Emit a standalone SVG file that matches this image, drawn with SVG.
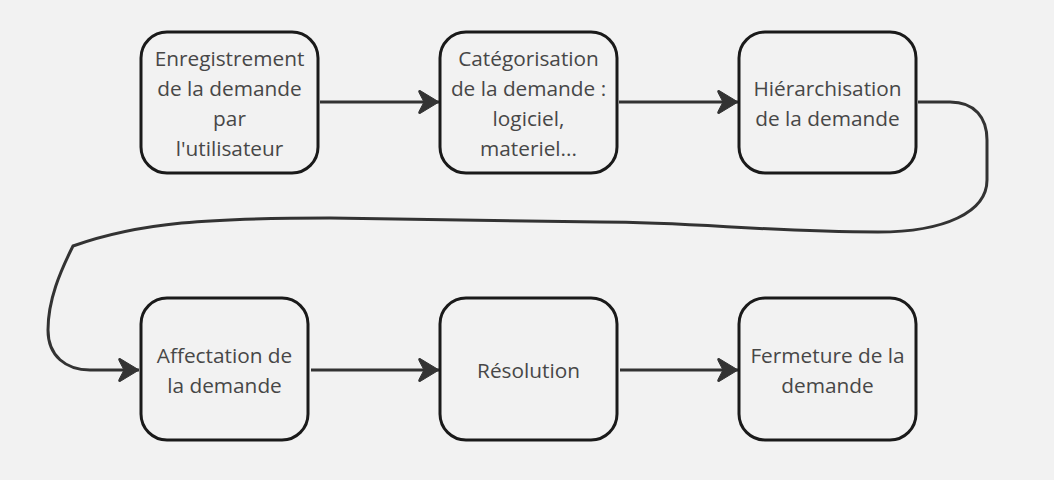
<svg xmlns="http://www.w3.org/2000/svg" width="1054" height="480" viewBox="0 0 1054 480">
<style>
.bg{fill:#f2f2f2}
.box{fill:#f2f2f2;stroke:#1a1a1a;stroke-width:3}
.lbl{font-family:"Open Sans","Noto Sans",sans-serif;font-size:20.8px;fill:#474747;text-anchor:middle}
.edge{fill:none;stroke:#333333;stroke-width:3;marker-end:url(#arr)}
</style>
<defs>
<marker id="arr" markerUnits="userSpaceOnUse" viewBox="-21 -13 22 26" markerWidth="22" markerHeight="26" refX="0" refY="0" orient="auto">
<path d="M0,0 L-19,-11.5 Q-21,-12 -20,-9.5 L-15,0 L-20,9.5 Q-21,12 -19,11.5 Z" fill="#333333" stroke="#333333" stroke-width="1" stroke-linejoin="round"/>
</marker>
</defs>
<rect class="bg" x="0" y="0" width="1054" height="480"/>
<g id="connectors">
<path class="edge" d="M320,102 L439,102"/>
<path class="edge" d="M619,102 L738,102"/>
<path class="edge" d="M918,102 L950,102 C975,102 987,118 987,140 L987,180 C987,212 945,232 878,232 C760,232 700,222 600,222 L330,218 C210,218 140,222 73,246 C60,272 48,300 48,330 C48,356 66,370 90,370 L139,370"/>
<path class="edge" d="M311,370 L439,370"/>
<path class="edge" d="M620,370 L738,370"/>
</g>
<g id="n1">
<rect class="box" x="141" y="32" width="177" height="141" rx="26"/>
<text class="lbl" x="229.5" y="65.5">Enregistrement</text>
<text class="lbl" x="229.5" y="96">de la demande</text>
<text class="lbl" x="229.5" y="126">par</text>
<text class="lbl" x="229.5" y="156">l'utilisateur</text>
</g>
<g id="n2">
<rect class="box" x="440" y="32" width="177" height="141" rx="26"/>
<text class="lbl" x="528.5" y="65.5">Catégorisation</text>
<text class="lbl" x="528.5" y="96">de la demande :</text>
<text class="lbl" x="528.5" y="126">logiciel,</text>
<text class="lbl" x="528.5" y="156">materiel...</text>
</g>
<g id="n3">
<rect class="box" x="739" y="32" width="177" height="141" rx="26"/>
<text class="lbl" x="827.5" y="96">Hiérarchisation</text>
<text class="lbl" x="827.5" y="126">de la demande</text>
</g>
<g id="n4">
<rect class="box" x="141" y="298" width="167" height="142" rx="26"/>
<text class="lbl" x="224.5" y="363">Affectation de</text>
<text class="lbl" x="224.5" y="393">la demande</text>
</g>
<g id="n5">
<rect class="box" x="440" y="298" width="177" height="142" rx="26"/>
<text class="lbl" x="528.5" y="378">Résolution</text>
</g>
<g id="n6">
<rect class="box" x="739" y="298" width="177" height="142" rx="26"/>
<text class="lbl" x="827.5" y="363">Fermeture de la</text>
<text class="lbl" x="827.5" y="393">demande</text>
</g>
</svg>
